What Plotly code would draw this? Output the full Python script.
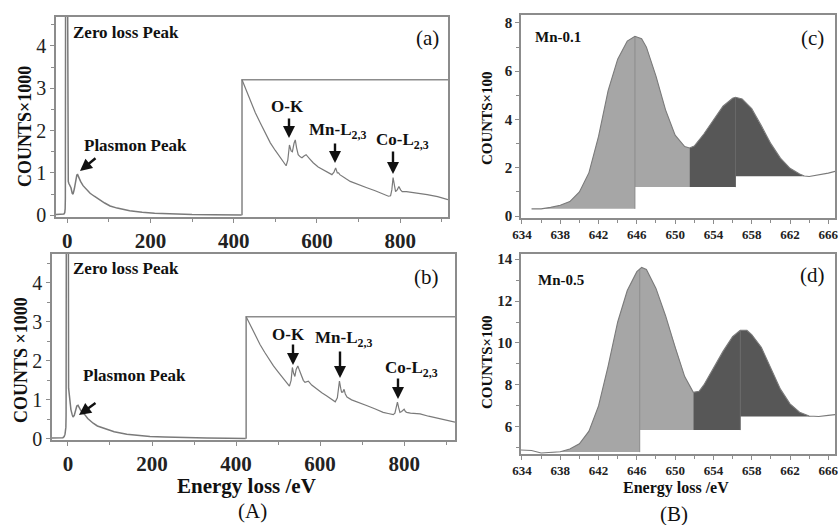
import numpy as np
import plotly.graph_objects as go

# ---------------- data ----------------
# Panel (a): low-loss region (eV, counts x1000)
a_low_x = [-27, -15, -8, -6, -5, -4.5, -4, 1.0, 1.5, 2.5, 4, 6, 9, 12, 14, 17, 20, 23, 25, 28, 32, 38, 45, 55, 65, 72, 80, 90, 103, 120, 150, 180, 210, 250, 300, 350, 400, 419]
a_low_y = [0.02, 0.02, 0.03, 0.06, 0.15, 0.4, 5.0, 5.0, 1.5, 0.8, 0.75, 0.72, 0.65, 0.52, 0.5, 0.62, 0.85, 0.95, 0.96, 0.88, 0.8, 0.7, 0.62, 0.52, 0.45, 0.4, 0.35, 0.29, 0.22, 0.17, 0.11, 0.07, 0.05, 0.03, 0.02, 0.015, 0.01, 0.01]
# Panel (a): core-loss region (scaled)
a_core_x = [420, 430, 440, 452, 464, 476, 488, 500, 512, 520, 526, 530, 534, 538, 541, 545, 548, 551, 555, 560, 564, 569, 574, 582, 591, 603, 615, 625, 636, 641, 645, 649, 652, 655, 660, 670, 680, 700, 720, 740, 752, 765, 772, 777, 780, 783, 786, 789, 793, 797, 801, 805, 815, 832, 850, 865, 890, 915]
a_core_y = [3.2, 2.95, 2.72, 2.42, 2.18, 1.93, 1.71, 1.53, 1.36, 1.26, 1.17, 1.3, 1.66, 1.52, 1.5, 1.7, 1.78, 1.6, 1.43, 1.38, 1.36, 1.4, 1.43, 1.34, 1.24, 1.14, 1.08, 1.02, 0.96, 1.02, 1.12, 1.0, 1.0, 0.96, 0.92, 0.86, 0.8, 0.72, 0.65, 0.58, 0.53, 0.49, 0.45, 0.46, 0.6, 0.89, 0.7, 0.56, 0.6, 0.68, 0.6, 0.56, 0.56, 0.54, 0.52, 0.49, 0.44, 0.37]
a_box_x = [420, 420, 960]
a_box_y = [0.0, 3.2, 3.2]

# Panel (b)
b_low_x = [-38, -20, -12, -9, -7, -5, -4.5, -4, 1.0, 1.5, 3, 5, 7, 10, 12, 15, 18, 21, 24, 27, 31, 36, 40, 47, 54, 60, 70, 80, 92, 110, 140, 170, 195, 230, 275, 330, 380, 423]
b_low_y = [0.02, 0.02, 0.03, 0.06, 0.12, 0.3, 0.6, 5.0, 5.0, 1.3, 1.1, 0.95, 0.75, 0.62, 0.56, 0.6, 0.75, 0.84, 0.86, 0.8, 0.72, 0.66, 0.62, 0.52, 0.45, 0.4, 0.33, 0.29, 0.25, 0.18, 0.12, 0.08, 0.06, 0.045, 0.03, 0.02, 0.015, 0.01]
b_core_x = [424, 435, 446, 457, 468, 478, 489, 500, 513, 520, 527, 531, 534, 537, 540, 543, 547, 551, 556, 560, 564, 568, 572, 580, 592, 604, 616, 626, 636, 641, 644, 646, 649, 651, 654, 657, 660, 664, 675, 688, 700, 712, 730, 750, 762, 774, 778, 781, 784, 787, 790, 794, 798, 800, 803, 806, 815, 838, 858, 878, 900, 921]
b_core_y = [3.13, 2.88, 2.65, 2.42, 2.22, 2.05, 1.87, 1.72, 1.53, 1.45, 1.35, 1.5, 1.83, 1.68, 1.6, 1.78, 1.87, 1.75, 1.58, 1.5, 1.45, 1.46, 1.48, 1.38, 1.27, 1.18, 1.1, 1.02, 0.95, 1.05, 1.35, 1.48, 1.3, 1.2, 1.2, 1.27, 1.15, 1.07, 1.0, 0.94, 0.9, 0.85, 0.77, 0.68, 0.65, 0.62, 0.66, 0.8, 0.94, 0.8, 0.68, 0.7, 0.76, 0.76, 0.7, 0.68, 0.66, 0.64, 0.58, 0.53, 0.48, 0.43]
b_box_x = [424, 424, 960]
b_box_y = [0.0, 3.13, 3.13]

# Panel (c): Mn-0.1 Mn-L2,3 edge (counts x100)
c_x = [635, 636, 637, 638, 639, 640, 641, 642, 643, 644, 645, 645.8, 646.5, 647, 648, 649, 650, 651, 651.5, 652, 653, 654, 655, 656, 656.3, 657, 658, 659, 660, 661, 662, 663, 663.5, 664, 665, 666, 667]
c_y = [0.3, 0.3, 0.36, 0.45, 0.6, 1.0, 1.8, 3.3, 5.2, 6.5, 7.25, 7.45, 7.35, 7.0, 5.8, 4.4, 3.35, 2.88, 2.82, 2.9, 3.4, 4.0, 4.55, 4.88, 4.92, 4.85, 4.45, 3.75, 3.0, 2.4, 1.98, 1.74, 1.66, 1.64, 1.7, 1.78, 1.88]
c_edges = [635, 645.8, 651.5, 656.3, 663.5]
c_bases = [0.3, 1.2, 1.2, 1.65]

# Panel (d): Mn-0.5
d_x = [633.9, 635, 636, 637, 638, 639, 640, 641, 642, 643, 644, 645, 646, 646.5, 647, 648, 649, 650, 651, 651.9, 652.5, 653, 654, 655, 656, 656.8, 657.5, 658, 659, 660, 661, 662, 663, 664, 664.5, 665, 666, 667]
d_y = [4.9, 4.88, 4.76, 4.78, 4.82, 4.95, 5.2, 5.8, 7.0, 8.9, 11.0, 12.5, 13.4, 13.6, 13.5, 12.6, 11.3, 9.8, 8.4, 7.65, 7.7, 8.0, 8.8, 9.6, 10.3, 10.6, 10.6, 10.4, 9.8, 8.8, 7.8, 7.1, 6.7, 6.52, 6.5, 6.5, 6.55, 6.6]
d_edges = [637, 646.3, 651.9, 656.8, 664.5]
d_bases = [4.8, 5.85, 5.85, 6.5]

a_xticks = [0, 200, 400, 600, 800]
c_xticks = [634, 638, 642, 646, 650, 654, 658, 662, 666]

# ---------------- styling ----------------
W, H = 838, 525
LINE = "#7a7a7a"
FRAME = "#8c8c8c"
LIGHT = "#a6a6a6"
DARK = "#575757"
SERIF = "Liberation Serif, Times New Roman, serif"


def fx(p):
    return p / W


def fy(p):
    return 1 - p / H


fig = go.Figure()

# ---- panel (a) and (b) spectra ----
for ax_id, lx, ly, cx, cy, bx, by in [
    ("", a_low_x, a_low_y, a_core_x, a_core_y, a_box_x, a_box_y),
    ("2", b_low_x, b_low_y, b_core_x, b_core_y, b_box_x, b_box_y),
]:
    xa, ya = "x" + ax_id, "y" + ax_id
    fig.add_trace(go.Scatter(x=bx, y=by, xaxis=xa, yaxis=ya, mode="lines",
                             line=dict(color=FRAME, width=1.6), hoverinfo="skip"))
    fig.add_trace(go.Scatter(x=lx, y=ly, xaxis=xa, yaxis=ya, mode="lines",
                             line=dict(color=LINE, width=1.5)))
    fig.add_trace(go.Scatter(x=cx, y=cy, xaxis=xa, yaxis=ya, mode="lines",
                             line=dict(color=LINE, width=1.2)))


# ---- panel (c) and (d) edges with filled areas ----
def seg_poly(xs, ys, x0, x1, base):
    xs = np.asarray(xs, float)
    ys = np.asarray(ys, float)
    inner = (xs > x0) & (xs < x1)
    px_ = [x0] + list(xs[inner]) + [x1]
    py_ = [float(np.interp(x0, xs, ys))] + list(ys[inner]) + [float(np.interp(x1, xs, ys))]
    px_ += [x1, x0, x0]
    py_ += [base, base, py_[0]]
    return px_, py_


for ax_id, xs, ys, edges, bases in [("3", c_x, c_y, c_edges, c_bases),
                                    ("4", d_x, d_y, d_edges, d_bases)]:
    xa, ya = "x" + ax_id, "y" + ax_id
    for i in range(4):
        ppx, ppy = seg_poly(xs, ys, edges[i], edges[i + 1], bases[i])
        fig.add_trace(go.Scatter(x=ppx, y=ppy, xaxis=xa, yaxis=ya, mode="lines",
                                 fill="toself", fillcolor=LIGHT if i < 2 else DARK,
                                 line=dict(width=0), hoverinfo="skip"))
    # divider lines at the peak positions
    for k, col in [(1, "#8a8a8a"), (3, "#666666")]:
        xv = edges[k]
        fig.add_trace(go.Scatter(x=[xv, xv], y=[bases[k - 1], float(np.interp(xv, xs, ys))],
                                 xaxis=xa, yaxis=ya, mode="lines",
                                 line=dict(color=col, width=1), hoverinfo="skip"))
    fig.add_trace(go.Scatter(x=xs, y=ys, xaxis=xa, yaxis=ya, mode="lines",
                             line=dict(color=LINE, width=1.1)))


def axis(domain, rng, tickvals=None, dtick=None, minor=None, size=14, bold=True, anchor=None):
    d = dict(domain=domain, range=rng, showgrid=False, zeroline=False,
             showline=True, mirror=True, linecolor=FRAME, linewidth=1.6,
             ticks="outside", ticklen=4, tickcolor=FRAME, tickwidth=1,
             tickfont=dict(family=SERIF, size=size, color="#222222",
                           weight="bold" if bold else "normal"),
             anchor=anchor, fixedrange=True, automargin=False,
             ticklabeloverflow="allow")
    if tickvals is not None:
        d["tickmode"] = "array"
        d["tickvals"] = tickvals
    if dtick is not None:
        d["dtick"] = dtick
        d["tick0"] = 0
    if minor is not None:
        d["minor"] = dict(dtick=minor, tick0=0, ticks="outside", ticklen=3, tickcolor=FRAME)
    return d


layout = dict(
    width=W, height=H, margin=dict(l=0, r=0, t=0, b=0, autoexpand=False),
    paper_bgcolor="white", plot_bgcolor="white", showlegend=False,
    xaxis=axis([fx(56), fx(448)], [-27, 915], tickvals=a_xticks, minor=100, size=21, anchor="y"),
    yaxis=axis([fy(217), fy(17)], [-0.04, 4.68], dtick=1, minor=0.5, size=20, bold=False, anchor="x"),
    xaxis2=axis([fx(52), fx(455)], [-38, 921], tickvals=a_xticks, minor=100, size=21, anchor="y2"),
    yaxis2=axis([fy(440), fy(254)], [-0.03, 4.74], dtick=1, minor=0.5, size=20, bold=False, anchor="x2"),
    xaxis3=axis([fx(521), fx(835)], [633.9, 666.7], tickvals=c_xticks, minor=2, size=13, anchor="y3"),
    yaxis3=axis([fy(218), fy(15)], [-0.08, 8.33], dtick=2, minor=1, size=15, anchor="x3"),
    xaxis4=axis([fx(521), fx(835)], [633.9, 666.7], tickvals=c_xticks, minor=2, size=13, anchor="y4"),
    yaxis4=axis([fy(454), fy(254)], [4.71, 14.24], dtick=2, minor=1, size=15, anchor="x4"),
)
fig.update_layout(**layout)

ann = []


def text(x, y, t, size, bold=True, angle=0, color="#111111"):
    ann.append(dict(x=fx(x), y=fy(y), xref="paper", yref="paper", text=t, showarrow=False,
                    xanchor="center", yanchor="middle", textangle=angle,
                    font=dict(family=SERIF, size=size, color=color,
                              weight="bold" if bold else "normal")))


def arrow(x, y, dx, dy):
    ann.append(dict(x=fx(x), y=fy(y), xref="paper", yref="paper", text="", showarrow=True,
                    ax=dx, ay=dy, arrowhead=2, arrowsize=1.0, arrowwidth=2.4,
                    arrowcolor="#111111"))


# panel (a)
text(126, 32, "Zero loss Peak", 17)
text(427, 38, "(a)", 21, bold=False)
text(135, 145, "Plasmon Peak", 17)
text(287, 106, "O-K", 17)
text(337, 131, "Mn-L<sub>2,3</sub>", 17)
text(402, 141, "Co-L<sub>2,3</sub>", 17)
arrow(80, 171, 17, -14)
arrow(289, 138, 0, -21)
arrow(335, 163, 0, -21)
arrow(393, 174, 0, -24)
text(25, 127, "COUNTS×1000", 18, angle=-90)

# panel (b)
text(126, 268, "Zero loss Peak", 17)
text(426, 277, "(b)", 21, bold=False)
text(134, 375, "Plasmon Peak", 17)
text(288, 334, "O-K", 17)
text(343, 339, "Mn-L<sub>2,3</sub>", 17)
text(411, 369, "Co-L<sub>2,3</sub>", 17)
arrow(79, 415, 18, -13)
arrow(293, 365, 0, -22)
arrow(340, 378, 0, -28)
arrow(398, 399, 0, -22)
text(21, 360, "COUNTS ×1000", 18, angle=-90)
text(246, 486, "Energy loss /eV", 21)
text(252, 511, "(A)", 21, bold=False)

# panel (c)
text(558, 37, "Mn-0.1", 15)
text(812, 38, "(c)", 21, bold=False)
text(487, 118, "COUNTS×100", 15, angle=-90)

# panel (d)
text(561, 280, "Mn-0.5", 15)
text(812, 275, "(d)", 21, bold=False)
text(487, 362, "COUNTS×100", 15, angle=-90)
text(676, 488, "Energy loss /eV", 16)
text(674, 514, "(B)", 21, bold=False)

fig.update_layout(annotations=ann)
fig.write_html("out.html", config={"displayModeBar": False},
               post_script="document.body.style.margin='0px';document.body.style.overflow='hidden';")
